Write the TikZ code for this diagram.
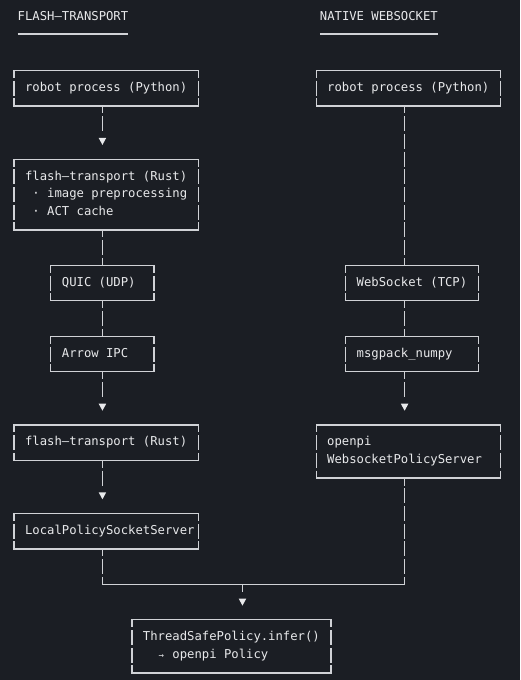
\documentclass[tikz,border=0pt]{standalone}
\usepackage{fontspec}
\setmainfont{DejaVu Sans Mono}
\usetikzlibrary{calc}
\hbadness=10000 \hfuzz=200pt
\definecolor{bg}{HTML}{1B1E24}
\definecolor{fg}{HTML}{E8E9EB}
\definecolor{ln}{HTML}{D0D2D6}
\newcommand\hh{17.72}
\newcommand\asciiframe[1]{%
  \draw[hline] (#1.north west) -- (#1.north east) (#1.south west) -- (#1.south east);
  \draw[vline] (#1.north west) -- (#1.south west) (#1.north east) -- (#1.south east);}
\newcommand\downtip[1]{\fill[tipc] ($(#1)+(-3.8,-\hh-3.5)$) -- ++(7.6,0) -- ++(-3.8,7) -- cycle;}
\newcommand\monosize{\fontsize{12.24}{17.72}\selectfont\frenchspacing}
\newcommand\ws{\spaceskip=7.37pt\relax\xspaceskip=7.37pt\relax}
\tikzset{
  hline/.style={draw=ln, line width=1.2pt, line cap=rect},
  vline/.style={draw=ln, line width=1.2pt, dash pattern=on 15pt off 2.72pt, dash phase=7.5pt},
  tipc/.style={fill=fg},
  txt/.style={text=fg, font=\monosize},
  abox/.style={txt, anchor=north west, inner xsep=11.055pt, inner ysep=0pt, outer sep=0pt, align=left, text height=20.92pt},
  w25/.style={text width=162.14pt},
  w14/.style={text width=81.07pt},
  w18/.style={text width=110.55pt},
  w27/.style={text width=176.88pt},
  r2/.style={text depth=14.52pt},
  r3/.style={text depth=32.24pt},
  r4/.style={text depth=49.96pt},
  head/.style={txt, anchor=base west, inner sep=0pt, outer sep=0pt},
}
\begin{document}
\begin{tikzpicture}[x=1pt, y=-1pt]
\fill[bg] (0,0) rectangle (520,680);
\useasboundingbox (0,0) rectangle (520,680);

% headers
\node[head] (hL) at (17.7,20.7) {FLASH–TRANSPORT};
\node[head] (hR) at (319.9,20.7) {NATIVE WEBSOCKET};
\draw[ln, line width=1.2pt] ($(hL.base west)+(0,13.3)$) -- ($(hL.base east)+(0,13.3)$);
\draw[ln, line width=1.2pt] ($(hR.base west)+(0,13.3)$) -- ($(hR.base east)+(0,13.3)$);

% left column
\node[abox, w25, r2] (L1) at (14,70.5) {\ws robot process (Python)};
\node[abox, w25, r4] (L2) at (14,159.1) {\ws flash–transport (Rust)\\\hspace*{7.37pt}· image preprocessing\\\hspace*{7.37pt}· ACT cache};
\node[abox, w14, r2] (L3) at (50.85,265.42) {\ws QUIC (UDP)};
\node[abox, w14, r2] (L4) at (50.85,336.3) {\ws Arrow IPC};
\node[abox, w25, r2] (L5) at (14,424.9) {\ws flash–transport (Rust)};
\node[abox, w25, r2] (L6) at (14,513.5) {\ws LocalPolicySocketServer};

% right column
\node[abox, w25, r2] (R1) at (316.17,70.5) {\ws robot process (Python)};
\node[abox, w18, r2] (R3) at (345.65,265.42) {\ws WebSocket (TCP)};
\node[abox, w18, r2] (R4) at (345.65,336.3) {\ws msgpack\_numpy};
\node[abox, w25, r3] (R5) at (316.17,424.9) {\ws openpi\\WebsocketPolicyServer};

% bottom
\node[abox, w27, r3] (B) at (131.92,619.82) {\ws ThreadSafePolicy.infer()\\\hspace*{14.74pt}\makebox[7.37pt]{\fontsize{9}{9}\selectfont →} openpi Policy};

\foreach \n in {L1,L2,L3,L4,L5,L6,R1,R3,R4,R5,B} {\asciiframe{\n}}

% column coordinates
\coordinate (colL) at (102.44,0);
\coordinate (colR) at (404.61,0);
\coordinate (colM) at (242.47,0);
\coordinate (mL) at ($(L6.south -| colL)+(0,35.44)$);
\coordinate (mR) at (mL -| colR);

% connectors
\draw[vline, shorten >=26.58pt] (L1.south -| colL) -- (L2.north -| colL); \downtip{L2.north -| colL}
\draw[vline] (L2.south -| colL) -- (L3.north -| colL);
\draw[vline] (L3.south -| colL) -- (L4.north -| colL);
\draw[vline, shorten >=26.58pt] (L4.south -| colL) -- (L5.north -| colL); \downtip{L5.north -| colL}
\draw[vline, shorten >=26.58pt] (L5.south -| colL) -- (L6.north -| colL); \downtip{L6.north -| colL}
\draw[vline] (R1.south -| colR) -- (R3.north -| colR);
\draw[vline] (R3.south -| colR) -- (R4.north -| colR);
\draw[vline, shorten >=26.58pt] (R4.south -| colR) -- (R5.north -| colR); \downtip{R5.north -| colR}
\draw[vline] (L6.south -| colL) -- (mL);
\draw[vline] (R5.south -| colR) -- (mR);
\draw[hline] (mL) -- (mR);
\draw[vline, shorten >=26.58pt] (mL -| colM) -- (B.north -| colM); \downtip{B.north -| colM}
\end{tikzpicture}
\end{document}
